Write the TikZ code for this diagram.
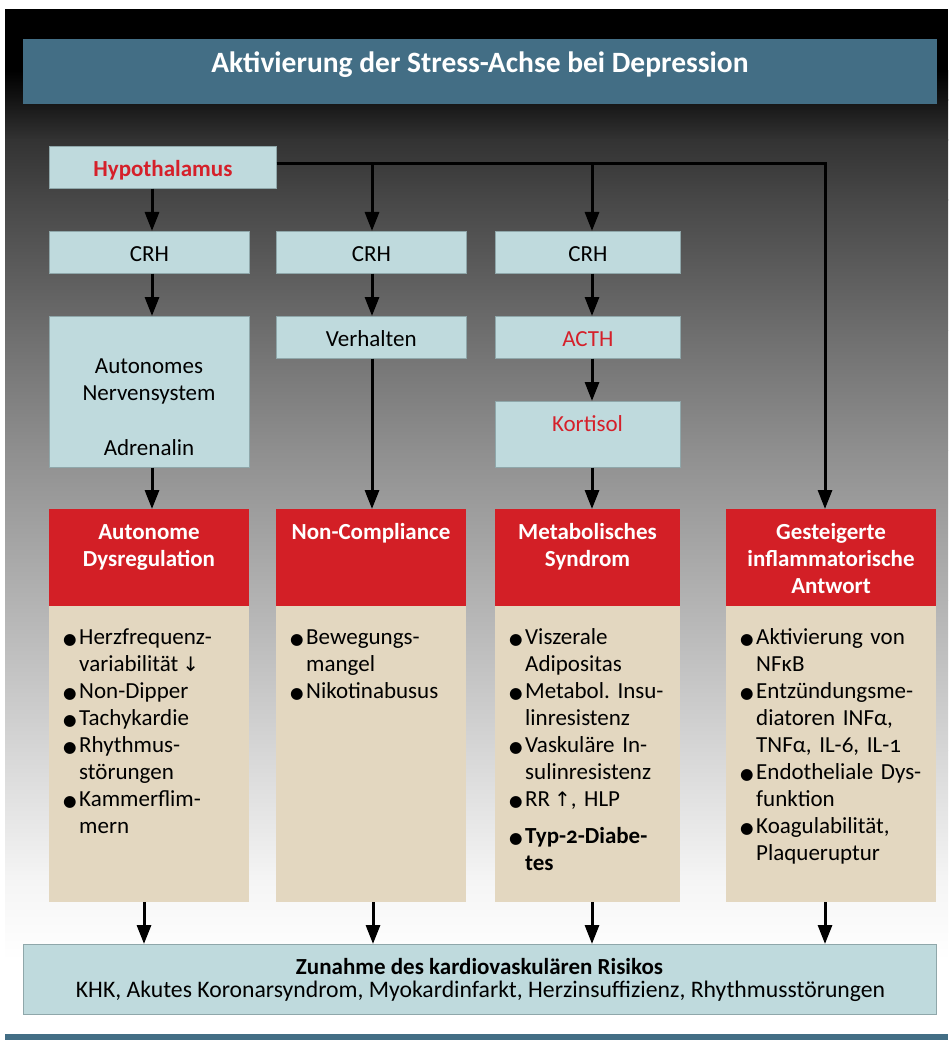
\documentclass[tikz,border=0pt]{standalone}
\usepackage{fontspec}
\setmainfont{Carlito}[Numbers=OldStyle]
\newfontfamily\dejavu{DejaVu Sans}
\usetikzlibrary{arrows.meta}
\definecolor{titleblue}{HTML}{436E85}
\definecolor{lightbox}{HTML}{BFDADD}
\definecolor{lbborder}{HTML}{8FA7AA}
\definecolor{redbox}{HTML}{D31F26}
\definecolor{beige}{HTML}{E3D7C0}
\definecolor{hred}{HTML}{D5202A}
\newcommand\bodyfont{\fontsize{23}{27}\selectfont}
\newcommand\bul{\makebox[16pt][l]{{\dejavu\fontsize{15.5}{15}\selectfont ●}}}
\newcommand\itm{\par\noindent\hangindent=16pt\hangafter=1\bul\strut}
\newcommand\darr{{\dejavu\fontsize{20}{18}\selectfont ↓}}
\newcommand\uarr{{\dejavu\fontsize{20}{18}\selectfont ↑}}
\begin{document}
\begin{tikzpicture}[x=1pt,y=-1pt,
  lb/.style={fill=lightbox, draw=lbborder, line width=0.7pt, inner sep=0pt, anchor=north west, text height=19pt, text depth=1pt, font=\bodyfont},
  rb/.style={fill=redbox, inner sep=0pt, anchor=north west},
  bb/.style={fill=beige, inner sep=0pt, anchor=north west},
  hdr/.style={inner sep=0pt, anchor=north, text width=205pt, align=center, text=white, font=\bodyfont\bfseries},
  lst/.style={inner sep=0pt, anchor=north west, font=\bodyfont},
  arr/.style={line width=3pt, -{Triangle[length=19pt,width=14pt]}},
]
\useasboundingbox (0,0) rectangle (948,1040);
\fill[white] (0,0) rectangle (948,1040);
% background gradient
\fill[black] (5,9) rectangle (948,71);
\shade[top color=black, bottom color=black!92] (5,70.5) rectangle (948,100.5);
\shade[top color=black!92, bottom color=black!80] (5,100) rectangle (948,140.5);
\shade[top color=black!80, bottom color=black!72] (5,140) rectangle (948,200.5);
\shade[top color=black!72, bottom color=black!57] (5,200) rectangle (948,330.5);
\shade[top color=black!57, bottom color=black!44] (5,330) rectangle (948,450.5);
\shade[top color=black!44, bottom color=black!30] (5,450) rectangle (948,600.5);
\shade[top color=black!30, bottom color=black!16] (5,600) rectangle (948,750.5);
\shade[top color=black!16, bottom color=black!4] (5,750) rectangle (948,880.5);
\shade[top color=black!4, bottom color=white] (5,880) rectangle (948,960);
\fill[titleblue] (5,1034) rectangle (948,1040);

% title
\node[fill=titleblue, minimum width=914pt, minimum height=65pt, inner sep=0pt, text=white,
  text height=13pt, text depth=11pt, font=\fontsize{29.5}{31}\selectfont\bfseries] (title) at (480,71.5)
  {Aktivierung der Stress-Achse bei Depression};

% light boxes
\node[lb, minimum width=227pt, minimum height=42pt, text=hred, font=\bodyfont\bfseries] (hyp) at (49,146) {Hypothalamus};
\node[lb, minimum width=200pt, minimum height=42pt] (crh1) at (49,231) {CRH};
\node[lb, minimum width=190pt, minimum height=42pt] (crh2) at (276,231) {CRH};
\node[lb, minimum width=185pt, minimum height=42pt] (crh3) at (495,231) {CRH};
\node[lb, minimum width=200pt, minimum height=151pt] (aut) at (49,316) {};
\node[lb, minimum width=190pt, minimum height=42pt] (verh) at (276,316) {Verhalten};
\node[lb, minimum width=185pt, minimum height=42pt, text=hred] (acth) at (495,316) {ACTH};
\node[lb, minimum width=185pt, minimum height=66pt] (kort) at (495,401) {};
\node[inner sep=0pt, anchor=base, text=hred, font=\bodyfont] (korttxt) at (587.5,431) {Kortisol};
\node[inner sep=0pt, anchor=north, text width=200pt, align=center, font=\bodyfont] (auttxt) at (149,354.1)
  {\strut Autonomes\\\strut Nervensystem\\[28pt]\strut Adrenalin};

% red boxes
\node[rb, minimum width=200pt, minimum height=97pt] (red1) at (49,509) {};
\node[rb, minimum width=190pt, minimum height=97pt] (red2) at (276,509) {};
\node[rb, minimum width=185pt, minimum height=97pt] (red3) at (495,509) {};
\node[rb, minimum width=210pt, minimum height=97pt] (red4) at (726,509) {};
\node[hdr] (h1) at (149,520.1) {\strut Autonome\\\strut Dysregulation};
\node[hdr] (h2) at (371,520.1) {\strut Non-Compliance};
\node[hdr] (h3) at (587.5,520.1) {\strut Metabolisches\\\strut Syndrom};
\node[hdr, text width=210pt] (h4) at (831,520.1) {\strut Gesteigerte\\\strut inflammatorische\\\strut Antwort};

% beige boxes
\node[bb, minimum width=200pt, minimum height=296pt] (bg1) at (49,606) {};
\node[bb, minimum width=190pt, minimum height=296pt] (bg2) at (276,606) {};
\node[bb, minimum width=185pt, minimum height=296pt] (bg3) at (495,606) {};
\node[bb, minimum width=210pt, minimum height=296pt] (bg4) at (726,606) {};

\node[lst, text width=184pt] (l1) at (63,617.1) {\raggedright\frenchspacing
  \itm Herzfrequenz-\newline variabilität\,\darr
  \itm Non-Dipper
  \itm Tachykardie
  \itm Rhythmus-\newline störungen
  \itm Kammerflim-\newline mern\par};
\node[lst, text width=174pt] (l2) at (290,617.1) {\raggedright\frenchspacing
  \itm Bewegungs-\newline mangel
  \itm Nikotinabusus\par};
\node[lst, text width=170pt] (l3) at (509,617.1) {\raggedright\frenchspacing
  \itm Viszerale\newline Adipositas
  \itm Metabol. Insu-\newline linresistenz
  \itm Vaskuläre In-\newline sulinresistenz
  \itm RR\,\uarr, HLP\par\vspace{10pt}
  \itm \textbf{Typ-2-Diabe-\newline tes}\par};
\node[lst, text width=196pt] (l4) at (740,617.1) {\raggedright\frenchspacing
  \itm Aktivierung von\newline NFκB
  \itm Entzündungsme-\newline diatoren INFα,\newline TNFα, IL-6, IL-1
  \itm Endotheliale Dys-\newline funktion
  \itm Koagulabilität,\newline Plaqueruptur\par};

% bottom box
\node[lb, minimum width=913pt, minimum height=70pt] (risk) at (23,944) {};
\node[anchor=base, inner sep=0pt, font=\fontsize{23}{25}\selectfont\bfseries] (risk1) at (479.5,974)
  {Zunahme des kardiovaskulären Risikos};
\node[anchor=base, inner sep=0pt, font=\fontsize{23.7}{27}\selectfont] (risk2) at (480.5,997)
  {KHK, Akutes Koronarsyndrom, Myokardinfarkt, Herzinsuffizienz, Rhythmusstörungen};

% connector coordinates
\coordinate (c1) at (152,0);
\coordinate (c2) at (372,0);
\coordinate (c3) at (592,0);
\coordinate (corner) at (825,164);
\coordinate (d1) at (144,0);
\coordinate (d2) at (373,0);
\coordinate (d3) at (592,0);
\coordinate (d4) at (825,0);

% connectors
\draw[arr] (hyp.east |- corner) -- (corner) -- (corner |- red4.north);
\draw[arr] (c2 |- corner) -- (c2 |- crh2.north);
\draw[arr] (c3 |- corner) -- (c3 |- crh3.north);
\draw[arr] (c1 |- hyp.south) -- (c1 |- crh1.north);
\draw[arr] (c1 |- crh1.south) -- (c1 |- aut.north);
\draw[arr] (c1 |- aut.south) -- (c1 |- red1.north);
\draw[arr] (c2 |- crh2.south) -- (c2 |- verh.north);
\draw[arr] (c2 |- verh.south) -- (c2 |- red2.north);
\draw[arr] (c3 |- crh3.south) -- (c3 |- acth.north);
\draw[arr] (c3 |- acth.south) -- (c3 |- kort.north);
\draw[arr] (c3 |- kort.south) -- (c3 |- red3.north);
\draw[arr] (d1 |- bg1.south) -- (d1 |- risk.north);
\draw[arr] (d2 |- bg2.south) -- (d2 |- risk.north);
\draw[arr] (d3 |- bg3.south) -- (d3 |- risk.north);
\draw[arr] (d4 |- bg4.south) -- (d4 |- risk.north);
\end{tikzpicture}
\end{document}
